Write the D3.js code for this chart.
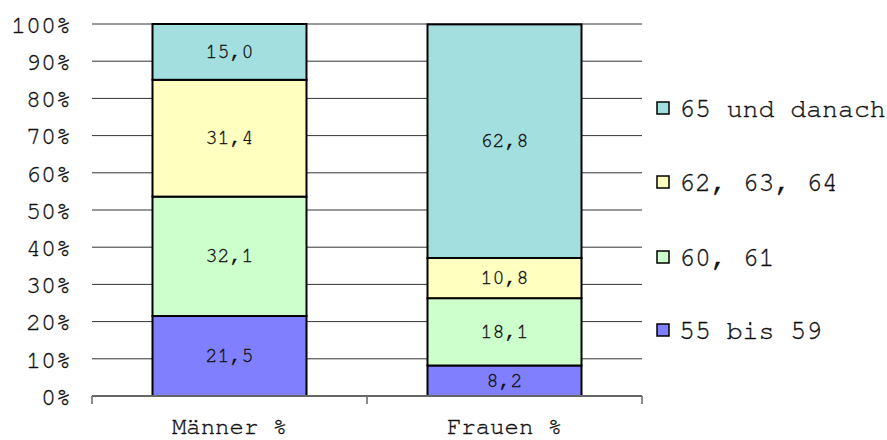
<!DOCTYPE html>
<html>
<head>
<meta charset="utf-8">
<script src="https://cdn.jsdelivr.net/npm/d3@7/dist/d3.min.js"></script>
<style>
  body { margin: 0; background: #fff; }
  text { font-family: "Nimbus Mono PS", "Nimbus Mono L", "FreeMono", "Courier New", Courier, "Liberation Mono", monospace; fill: #111; stroke: #111; stroke-width: 0.35px; }
</style>
</head>
<body>
<svg id="chart" width="887" height="440"></svg>
<script>
// data
const groups = ['Männer %', 'Frauen %'];
const ageBands = ['55 bis 59', '60, 61', '62, 63, 64', '65 und danach'];
const maenner = [21.5, 32.1, 31.4, 15.0];
const frauen = [8.2, 18.1, 10.8, 62.8];
const bandColors = ['#8080ff', '#ccffcc', '#ffffc0', '#a3dfdf'];
const yTicks = [0, 10, 20, 30, 40, 50, 60, 70, 80, 90, 100];

const svg = d3.select('#chart');
const margin = {left: 92, right: 245, top: 24, bottom: 44};
const width = 887 - margin.left - margin.right;
const height = 440 - margin.top - margin.bottom;

const g = svg.append('g')
    .attr('transform', `translate(${margin.left},${margin.top})`);

const x = d3.scaleBand()
    .domain(groups)
    .range([0, width])
    .paddingInner(0.44)
    .paddingOuter(0.22);

const y = d3.scaleLinear()
    .domain([0, 100])
    .range([height, 0]);

// gridlines
g.selectAll('.grid')
    .data(yTicks.filter(d => d > 0))
    .join('line')
    .attr('class', 'grid')
    .attr('x1', 0).attr('x2', width)
    .attr('y1', d => y(d)).attr('y2', d => y(d))
    .attr('stroke', '#333')
    .attr('stroke-width', 1);

// y tick labels
g.selectAll('.ylab')
    .data(yTicks)
    .join('text')
    .attr('class', 'ylab')
    .attr('x', -21)
    .attr('y', d => y(d))
    .attr('dy', '0.35em')
    .attr('text-anchor', 'end')
    .style('font-size', '25px')
    .text(d => d + '%');

// stacked series
const rows = groups.map((grp, i) => {
    const vals = i === 0 ? maenner : frauen;
    const r = {group: grp};
    ageBands.forEach((b, j) => r[b] = vals[j]);
    return r;
});
const stack = d3.stack().keys(ageBands)(rows);

const layers = g.selectAll('.layer')
    .data(stack)
    .join('g')
    .attr('class', 'layer')
    .attr('fill', (d, i) => bandColors[i]);

layers.selectAll('rect')
    .data(d => d)
    .join('rect')
    .attr('x', d => x(d.data.group))
    .attr('width', x.bandwidth())
    .attr('y', d => y(d[1]))
    .attr('height', d => y(d[0]) - y(d[1]))
    .attr('stroke', '#000')
    .attr('stroke-width', 2);

layers.selectAll('text')
    .data(d => d.map(s => ({s, key: d.key})))
    .join('text')
    .attr('x', d => x(d.s.data.group) + x.bandwidth() / 2)
    .attr('y', d => (y(d.s[0]) + y(d.s[1])) / 2)
    .attr('dy', '0.3em')
    .attr('text-anchor', 'middle')
    .style('font-size', '20px')
    .text(d => d3.format('.1f')(d.s[1] - d.s[0]).replace('.', ','));

// x axis
const xAxis = g.append('g').attr('transform', `translate(0,${height})`);
xAxis.append('line')
    .attr('x1', 0).attr('x2', width)
    .attr('stroke', '#666').attr('stroke-width', 2);
xAxis.selectAll('.tick')
    .data([0, x.step(), width])
    .join('line')
    .attr('x1', d => d).attr('x2', d => d)
    .attr('y1', 0).attr('y2', 8)
    .attr('stroke', '#666').attr('stroke-width', 1.5);
xAxis.selectAll('.xlab')
    .data(groups)
    .join('text')
    .attr('x', d => x(d) + x.bandwidth() / 2)
    .attr('y', 30)
    .attr('dy', '0.35em')
    .attr('text-anchor', 'middle')
    .style('font-size', '24px')
    .text(d => d);

// legend
const legend = svg.append('g').attr('transform', 'translate(657,0)');
const legendY = [330, 257, 182, 108];
const items = legend.selectAll('.item')
    .data(ageBands)
    .join('g')
    .attr('class', 'item')
    .attr('transform', (d, i) => `translate(0,${legendY[i]})`);
items.append('rect')
    .attr('x', 0).attr('y', -6)
    .attr('width', 12).attr('height', 12)
    .attr('fill', (d, i) => bandColors[i])
    .attr('stroke', '#000').attr('stroke-width', 1.5);
items.append('text')
    .attr('x', 22)
    .attr('dy', '0.35em')
    .style('font-size', '26.5px')
    .text(d => d);
</script>
</body>
</html>
